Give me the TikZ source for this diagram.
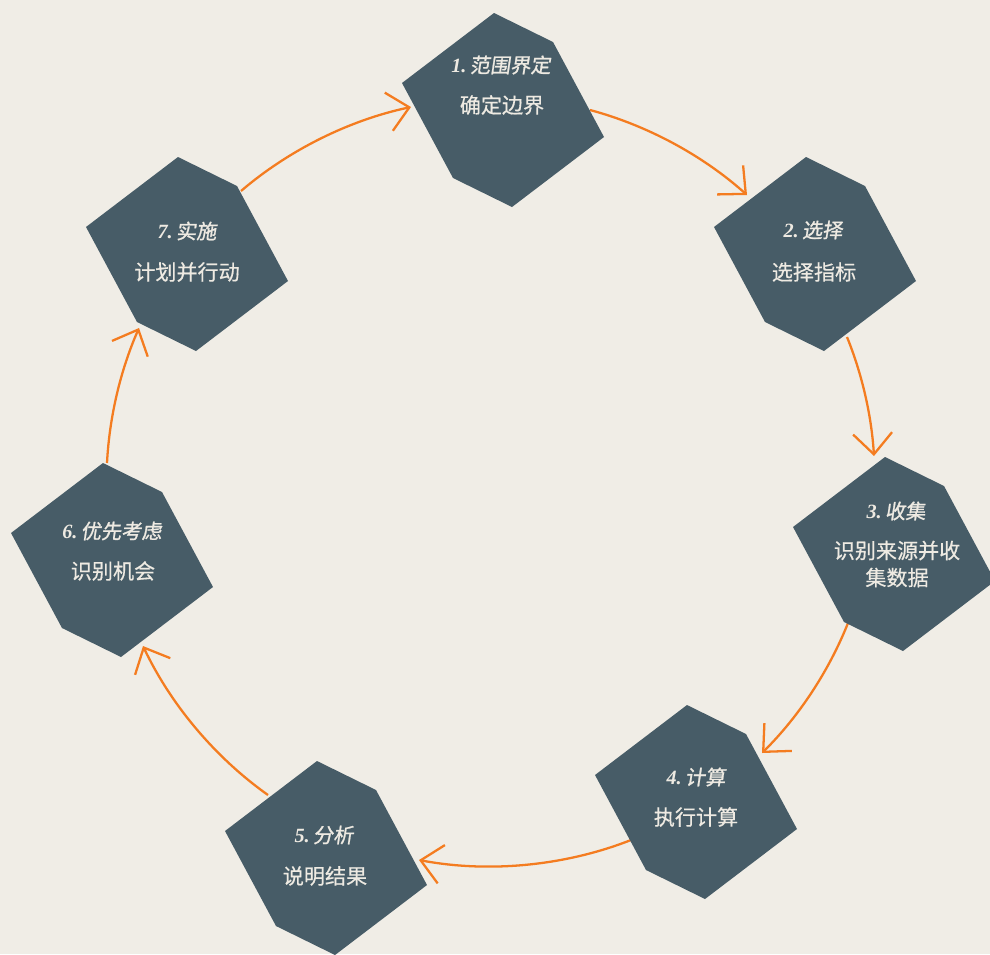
\documentclass[tikz,border=0pt]{standalone}
\usepackage{fontspec}
\setmainfont{Liberation Serif}
\newfontfamily\cjkfont{Noto Sans CJK SC}[FakeBold=0.5]
\newfontfamily\cjkslant{Noto Sans CJK SC}[FakeSlant=0.15,FakeBold=1.1]
\usetikzlibrary{arrows.meta}
\definecolor{paper}{HTML}{F0EDE6}
\definecolor{slate}{HTML}{475C67}
\definecolor{flame}{HTML}{F47C20}
\definecolor{cream}{HTML}{EEEAE2}
\tikzset{
  hexa/.pic={\fill[slate] (-9,-97) -- (50,-68) -- (101,27) -- (9,97) -- (-50,68) -- (-101,-27) -- cycle;},
  steptitle/.style={text=cream,font=\fontsize{11.5}{13}\selectfont,inner sep=0pt},
  stepdesc/.style={text=cream,font=\cjkfont\fontsize{12}{15.4}\selectfont,align=center,inner sep=0pt},
  flow/.style={draw=flame,line width=1.3pt,-{Straight Barb[length=0.42cm,width=0.78cm]},looseness=0.85},
}
\begin{document}
\begin{tikzpicture}[x=0.02cm,y=-0.02cm]
\fill[paper] (0,0) rectangle (990,954);
\useasboundingbox (0,0) rectangle (990,954);

% connectors
\coordinate (o1) at (590,110);
\coordinate (i2) at (747,195);
\coordinate (o2) at (847,337);
\coordinate (i3) at (874,456);
\coordinate (o3) at (848,623);
\coordinate (i4) at (762,753);
\coordinate (o4) at (631,840);
\coordinate (i5) at (419,860);
\coordinate (o5) at (268,795);
\coordinate (i6) at (143,646);
\coordinate (o6) at (107,463);
\coordinate (i7) at (139,328);
\coordinate (o7) at (241,191);
\coordinate (i1) at (411,107);

\draw[flow] (o1) to[bend left=13.4] (i2);
\draw[flow] (o2) to[bend left=9.2]  (i3);
\draw[flow] (o3) to[bend left=11.8] (i4);
\draw[flow] (o4) to[bend left=16.1] (i5);
\draw[flow] (o5) to[bend left=14.7] (i6);
\draw[flow] (o6) to[bend left=10.4] (i7);
\draw[flow] (o7) to[bend left=14.3] (i1);

% steps
\pic at (503,110) {hexa};
\node[steptitle] (t1) at (501,65)  {\textbf{\textit{1.}}\,{\cjkslant 范围界定}};
\node[stepdesc]  (d1) at (502,105) {确定边界};

\pic at (815,254) {hexa};
\node[steptitle] (t2) at (813,230) {\textbf{\textit{2.}}\,{\cjkslant 选择}};
\node[stepdesc]  (d2) at (814,272) {选择指标};

\pic at (894,554) {hexa};
\node[steptitle] (t3) at (896,511) {\textbf{\textit{3.}}\,{\cjkslant 收集}};
\node[stepdesc]  (d3) at (897,564) {识别来源并收\\集数据};

\pic at (696,802) {hexa};
\node[steptitle] (t4) at (696,777) {\textbf{\textit{4.}}\,{\cjkslant 计算}};
\node[stepdesc]  (d4) at (696,817) {执行计算};

\pic at (326,858) {hexa};
\node[steptitle] (t5) at (324,835) {\textbf{\textit{5.}}\,{\cjkslant 分析}};
\node[stepdesc]  (d5) at (325,876) {说明结果};

\pic at (112,560) {hexa};
\node[steptitle] (t6) at (112,531) {\textbf{\textit{6.}}\,{\cjkslant 优先考虑}};
\node[stepdesc]  (d6) at (113,571) {识别机会};

\pic at (187,254) {hexa};
\node[steptitle] (t7) at (187,231) {\textbf{\textit{7.}}\,{\cjkslant 实施}};
\node[stepdesc]  (d7) at (187,272) {计划并行动};
\end{tikzpicture}
\end{document}
